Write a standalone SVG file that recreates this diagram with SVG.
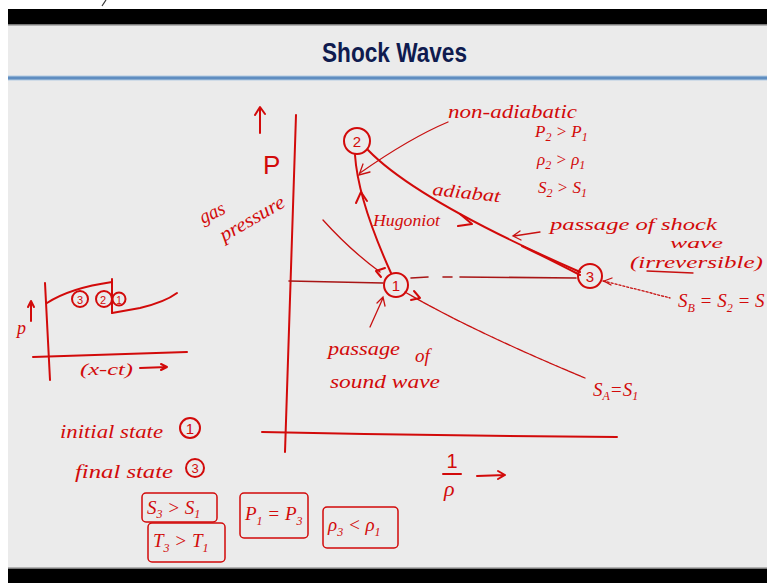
<svg xmlns="http://www.w3.org/2000/svg" width="767" height="583" viewBox="0 0 767 583">
<style>
.ink{fill:none;stroke:#d20a0a;stroke-width:2;stroke-linecap:round;stroke-linejoin:round}
.thin{fill:none;stroke:#c81010;stroke-width:1.3;stroke-linecap:round}
.dark{fill:none;stroke:#a81515;stroke-width:1.6;stroke-linecap:round}
.hw{font-family:"Liberation Serif","DejaVu Serif",serif;font-style:italic;fill:#d20a0a}
.num{font-family:"Liberation Sans","DejaVu Sans",sans-serif;fill:#d20a0a;text-anchor:middle}
.box{fill:none;stroke:#d20a0a;stroke-width:1.5}
</style>
<rect x="0" y="0" width="767" height="583" fill="#ffffff"/>
<rect x="8" y="9" width="759" height="16" fill="#000000"/>
<rect x="8" y="25" width="759" height="543" fill="#ebebeb"/>
<rect x="8" y="24" width="759" height="1.5" fill="#7a7a7a"/>
<rect x="8" y="75.5" width="759" height="5" fill="#b3cbe3"/>
<rect x="8" y="76.5" width="759" height="3" fill="#5f8dc0"/>
<rect x="8" y="567.5" width="759" height="1.5" fill="#7a7a7a"/>
<rect x="8" y="569" width="759" height="14" fill="#000000"/>
<path d="M106,0 L102,6" stroke="#333" stroke-width="1.2" fill="none"/>
<text x="322" y="62" font-family="Liberation Sans, Arial, sans-serif" font-weight="bold" font-size="27" fill="#0f1b4f" textLength="145" lengthAdjust="spacingAndGlyphs">Shock Waves</text>

<g id="axes">
<path class="ink" d="M296,115 Q290,280 285,452"/>
<path class="ink" d="M262,432 Q440,436 617,437"/>
<path class="ink" d="M260,133 L260,108 M255,115 L260,107 L265,114"/>
<text x="263" y="174" font-family="Liberation Sans, sans-serif" font-size="26" fill="#d20a0a">P</text>
<text class="hw" x="203" y="224" font-size="20" transform="rotate(-25 203 224)" textLength="26" lengthAdjust="spacingAndGlyphs">gas</text>
<text class="hw" x="224" y="242" font-size="20" transform="rotate(-30 224 242)" textLength="72" lengthAdjust="spacingAndGlyphs">pressure</text>
<text class="num" x="452" y="468" font-size="20" font-family="Liberation Sans, sans-serif">1</text>
<path class="ink" d="M443,474 L461,474"/>
<text class="hw" x="444" y="496" font-size="22">ρ</text>
<path class="ink" d="M477,476 L505,475 M498,471 L505,475 L498,479"/>
</g>

<g id="connectors">
<path class="ink" d="M391,273 Q358,200 355,155"/>
<path class="ink" d="M356,203 L361,192 L367,201"/>
<path class="ink" d="M368,150 C395,178 450,215 580,272"/>
<path class="ink" d="M522,246 Q555,262 580,275" stroke-width="1.4"/>
<path class="ink" d="M460,214 L472,224 L458,226"/>
<path class="thin" d="M448,122 Q410,138 360,173"/>
<path class="thin" d="M370,172 L359,175 L363,164"/>
<path class="thin" d="M323,220 Q350,250 380,272"/>
<path class="ink" d="M385,268 L376,271 L381,277" stroke-width="1.6"/>
<path class="thin" d="M405,292 Q470,330 585,378" stroke-dasharray="6 1"/>
<path class="ink" d="M411,300 L420,298 L414,291" stroke-width="1.6"/>
<path class="dark" d="M289,281 L383,283"/>
<path class="dark" d="M411,278 L428,277 M443,277 L452,277 M460,277 L576,278"/>
<path class="thin" d="M603,281 Q640,290 670,298" stroke-dasharray="2 2"/>
<path class="thin" d="M612,278 L604,281 L611,285"/>
<path class="thin" d="M370,327 L383,298 M377,303 L383,297 L385,306"/>
<path class="thin" d="M540,232 L514,236 M520,231 L513,236 L521,240"/>
<path class="thin" d="M647,271 L693,273"/>
</g>

<g id="state1">
<circle class="ink" cx="396" cy="285" r="12" stroke-width="2.4"/>
<text class="num" x="396" y="291" font-size="15">1</text>
</g>
<g id="state2">
<circle class="ink" cx="357" cy="141" r="13" stroke-width="2.4"/>
<text class="num" x="357" y="147" font-size="15">2</text>
</g>
<g id="state3">
<circle class="ink" cx="590" cy="276" r="12" stroke-width="2.4"/>
<text class="num" x="590" y="282" font-size="15">3</text>
</g>

<g id="labels">
<text class="hw" x="448" y="118" font-size="19" textLength="129" lengthAdjust="spacingAndGlyphs">non-adiabatic</text>
<text class="hw" x="535" y="137" font-size="17">P<tspan font-size="12" dy="4">2</tspan><tspan dy="-4"> &gt; P</tspan><tspan font-size="12" dy="4">1</tspan></text>
<text class="hw" x="537" y="165" font-size="17">ρ<tspan font-size="12" dy="4">2</tspan><tspan dy="-4"> &gt; ρ</tspan><tspan font-size="12" dy="4">1</tspan></text>
<text class="hw" x="538" y="193" font-size="17">S<tspan font-size="12" dy="4">2</tspan><tspan dy="-4"> &gt; S</tspan><tspan font-size="12" dy="4">1</tspan></text>
<text class="hw" x="432" y="195" font-size="18" transform="rotate(6 432 195)" textLength="68" lengthAdjust="spacingAndGlyphs">adiabat</text>
<text class="hw" x="373" y="226" font-size="17" textLength="67" lengthAdjust="spacingAndGlyphs">Hugoniot</text>
<text class="hw" x="550" y="230" font-size="17" textLength="167" lengthAdjust="spacingAndGlyphs">passage of shock</text>
<text class="hw" x="670" y="248" font-size="15" textLength="53" lengthAdjust="spacingAndGlyphs">wave</text>
<text class="hw" x="630" y="268" font-size="16" textLength="133" lengthAdjust="spacingAndGlyphs">(irreversible)</text>
<text class="hw" x="328" y="355" font-size="19" textLength="72" lengthAdjust="spacingAndGlyphs">passage</text>
<text class="hw" x="415" y="362" font-size="19">of</text>
<text class="hw" x="330" y="388" font-size="18" textLength="110" lengthAdjust="spacingAndGlyphs">sound wave</text>
<text class="hw" x="593" y="396" font-size="19">S<tspan font-size="12" dy="4">A</tspan><tspan dy="-4">=S</tspan><tspan font-size="12" dy="4">1</tspan></text>
<text class="hw" x="678" y="307" font-size="19">S<tspan font-size="12" dy="5">B</tspan><tspan dy="-5"> = S</tspan><tspan font-size="12" dy="5">2</tspan><tspan dy="-5"> = S</tspan></text>
</g>

<g id="mini-plot">
<path class="ink" d="M45,283 L50,380" stroke-width="1.8"/>
<path class="ink" d="M33,357 L187,352" stroke-width="1.8"/>
<path class="ink" d="M47,303 Q70,288 112,282" stroke-width="1.6"/>
<path class="ink" d="M112,279 L112,313" stroke-width="2.6"/>
<path class="ink" d="M112,313 L140,308 Q165,302 177,293" stroke-width="1.6"/>
<text class="hw" x="17" y="334" font-size="18">p</text>
<path class="ink" d="M31,321 L31,302 M28,307 L31,301 L34,307" stroke-width="1.5"/>
<circle class="ink" cx="80" cy="299" r="8" stroke-width="1.5"/>
<text class="num" x="80" y="304" font-size="11">3</text>
<circle class="ink" cx="104" cy="299" r="8" stroke-width="1.5"/>
<text class="num" x="103" y="304" font-size="11">2</text>
<circle class="ink" cx="119" cy="299" r="6.5" stroke-width="1.5"/>
<text class="num" x="119" y="303.5" font-size="10">1</text>
<text class="hw" x="80" y="375" font-size="16" textLength="53" lengthAdjust="spacingAndGlyphs">(x-ct)</text>
<path class="ink" d="M140,368 L167,367 M161,364 L167,367 L161,370" stroke-width="1.5"/>
</g>

<g id="initial-state">
<text class="hw" x="60" y="438" font-size="18" textLength="103" lengthAdjust="spacingAndGlyphs">initial state</text>
<circle class="ink" cx="190" cy="428" r="10" stroke-width="1.6"/>
<text class="num" x="190" y="434" font-size="15">1</text>
</g>
<g id="final-state">
<text class="hw" x="75" y="478" font-size="18" textLength="98" lengthAdjust="spacingAndGlyphs">final state</text>
<circle class="ink" cx="195" cy="468" r="9" stroke-width="1.6"/>
<text class="num" x="195" y="473" font-size="13">3</text>
</g>

<g id="box-s">
<rect class="box" x="142" y="493" width="75" height="29" rx="4"/>
<text class="hw" x="147" y="514" font-size="19">S<tspan font-size="12" dy="4">3</tspan><tspan dy="-4"> &gt; S</tspan><tspan font-size="12" dy="4">1</tspan></text>
</g>
<g id="box-t">
<rect class="box" x="148" y="523" width="77" height="39" rx="4"/>
<text class="hw" x="153" y="547" font-size="19">T<tspan font-size="12" dy="5">3</tspan><tspan dy="-5"> &gt; T</tspan><tspan font-size="12" dy="5">1</tspan></text>
</g>
<g id="box-p">
<rect class="box" x="240" y="493" width="68" height="45" rx="4"/>
<text class="hw" x="245" y="520" font-size="19">P<tspan font-size="12" dy="5">1</tspan><tspan dy="-5"> = P</tspan><tspan font-size="12" dy="5">3</tspan></text>
</g>
<g id="box-rho">
<rect class="box" x="323" y="507" width="75" height="41" rx="4"/>
<text class="hw" x="328" y="531" font-size="19">ρ<tspan font-size="12" dy="5">3</tspan><tspan dy="-5"> &lt; ρ</tspan><tspan font-size="12" dy="5">1</tspan></text>
</g>
</svg>
